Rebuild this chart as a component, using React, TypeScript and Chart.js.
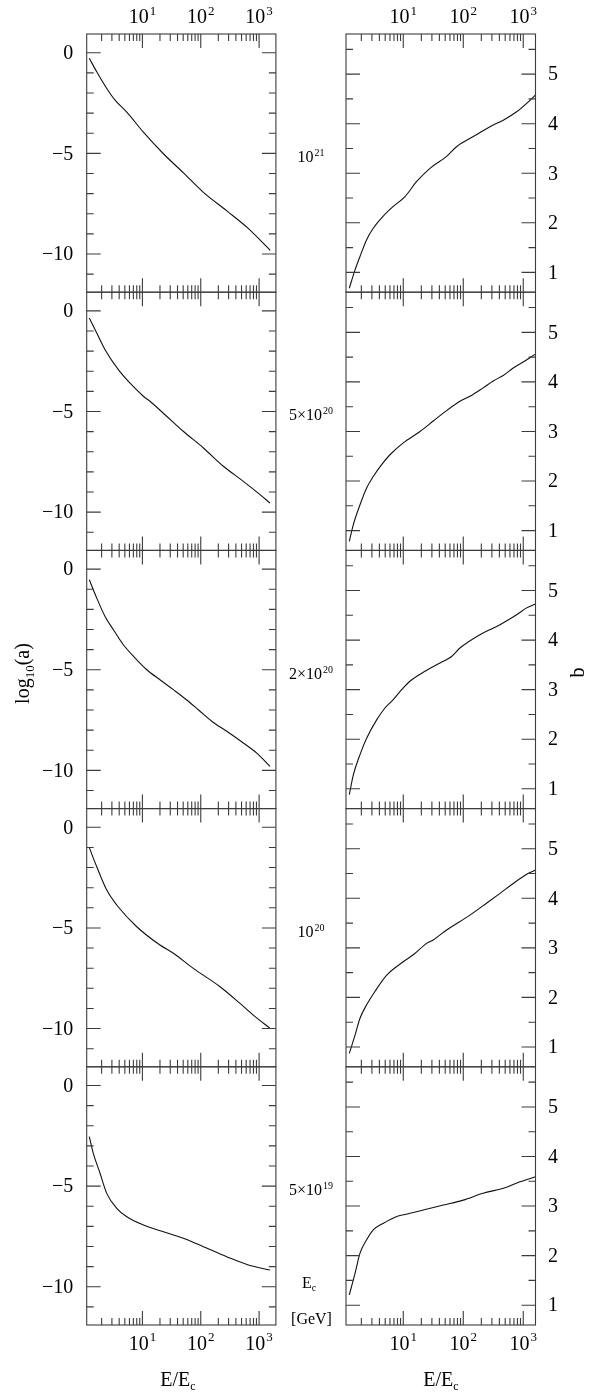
import React, { useEffect, useRef } from "react";
import { Chart, registerables } from "chart.js";

Chart.register(...registerables);

// ---------------- data ----------------
// left column: log10(a) versus E/Ec, one pair of arrays per panel (top to bottom)
const aEnergy1 = [1.23, 1.65, 2.45, 3.4, 5.4, 10.4, 22.9, 50.5, 111, 280, 657, 1550];
const aLog1 = [-0.28, -0.95, -1.78, -2.36, -2.95, -3.95, -5.02, -5.97, -6.94, -7.86, -8.74, -9.82];

const aEnergy2 = [1.23, 1.65, 2.29, 3.87, 6.1, 10.4, 13.5, 24.4, 50, 111, 244, 537, 1037, 1540];
const aLog2 = [-0.35, -1.1, -1.93, -2.92, -3.58, -4.24, -4.49, -5.16, -5.98, -6.81, -7.72, -8.47, -9.13, -9.55];

const aEnergy3 = [1.23, 1.65, 2.29, 3.18, 4.71, 7.5, 11.9, 20, 33.9, 57, 91, 154, 279, 537, 912, 1540];
const aLog3 = [-0.53, -1.44, -2.35, -3.01, -3.76, -4.42, -5.0, -5.5, -5.99, -6.49, -6.99, -7.56, -8.06, -8.64, -9.14, -9.8];

const aEnergy4 = [1.23, 1.65, 2.45, 3.63, 8.0, 20, 33.9, 74.6, 214, 471, 795, 1540];
const aLog4 = [-1.01, -1.96, -3.12, -3.86, -4.94, -5.85, -6.26, -7.01, -7.92, -8.75, -9.33, -9.99];

const aEnergy5 = [1.23, 1.44, 1.88, 2.45, 3.63, 5.4, 10.4, 22.9, 50.4, 111, 279, 653, 1540];
const aLog5 = [-2.54, -3.37, -4.36, -5.36, -6.1, -6.52, -6.93, -7.27, -7.59, -8.01, -8.51, -8.92, -9.17];

// right column: b versus E/Ec
const bEnergy1 = [1.26, 1.57, 1.9, 2.45, 3.16, 4.6, 6.8, 10.7, 16.6, 27.9, 52.8, 78, 147, 279, 464, 776, 1140, 1600];
const bValue1 = [0.68, 1.05, 1.32, 1.66, 1.89, 2.13, 2.33, 2.53, 2.83, 3.1, 3.34, 3.54, 3.74, 3.94, 4.07, 4.24, 4.41, 4.58];

const bEnergy2 = [1.26, 1.47, 1.9, 2.45, 3.16, 4.36, 6.0, 10, 19, 31.6, 46.4, 88, 129, 214, 316, 464, 680, 1000, 1600];
const bValue2 = [0.78, 1.12, 1.52, 1.86, 2.09, 2.33, 2.53, 2.77, 3.0, 3.21, 3.37, 3.61, 3.71, 3.88, 4.02, 4.13, 4.28, 4.4, 4.56];

const bEnergy3 = [1.26, 1.47, 1.9, 2.45, 3.6, 4.95, 6.8, 9.4, 12.9, 23, 41, 64, 88, 190, 410, 776, 1140, 1600];
const bValue3 = [0.88, 1.28, 1.69, 2.02, 2.39, 2.63, 2.8, 3.0, 3.17, 3.37, 3.54, 3.67, 3.84, 4.11, 4.31, 4.51, 4.65, 4.73];

const bEnergy4 = [1.26, 1.57, 1.9, 2.45, 3.37, 5.3, 10, 14.7, 24.5, 31.6, 52.8, 129, 244, 410, 680, 1200, 1600];
const bValue4 = [0.87, 1.24, 1.58, 1.85, 2.12, 2.45, 2.72, 2.86, 3.09, 3.16, 3.36, 3.66, 3.9, 4.1, 4.3, 4.5, 4.57];

const bEnergy5 = [1.26, 1.57, 1.9, 2.45, 3.16, 4.6, 7.8, 10.7, 21.5, 46.4, 100, 214, 464, 881, 1600];
const bValue5 = [1.21, 1.64, 2.05, 2.32, 2.52, 2.65, 2.79, 2.83, 2.92, 3.02, 3.12, 3.26, 3.36, 3.49, 3.59];

// tick labels
const xTickExponents = [1, 2, 3];
const aTickLabels = [0, -5, -10];
const bTickLabels = [1, 2, 3, 4, 5];

// primary energy E_c labels (mantissa and exponent), top to bottom
const ecMantissa = ["", "5\u00d7", "2\u00d7", "", "5\u00d7"];
const ecExponent = ["21", "20", "20", "20", "19"];

const leftSeries = [
  [aEnergy1, aLog1],
  [aEnergy2, aLog2],
  [aEnergy3, aLog3],
  [aEnergy4, aLog4],
  [aEnergy5, aLog5],
];
const rightSeries = [
  [bEnergy1, bValue1],
  [bEnergy2, bValue2],
  [bEnergy3, bValue3],
  [bEnergy4, bValue4],
  [bEnergy5, bValue5],
];

// ---------------- layout ----------------
const W = 592;
const H = 1395;
const SERIF = '"Liberation Serif", "Times New Roman", serif';
const PANEL_TOP = 34;
const PANEL_H = 258.2;
const COLS = [
  { left: 86.7, right: 275.9, xMin: 1.11, xMax: 1940, yMin: -11.9, yMax: 0.93, minor: 1, major: 5, titleX: 178 },
  { left: 346, right: 535.5, xMin: 1.11, xMax: 1600, yMin: 0.6, yMax: 5.81, minor: 0.5, major: 1, titleX: 441 },
];

function drawPow(ctx: CanvasRenderingContext2D, base: string, exp: string, cx: number, baseline: number, size: number, expSize: number, rise: number) {
  ctx.font = `${size}px ${SERIF}`;
  const wb = ctx.measureText(base).width;
  ctx.font = `${expSize}px ${SERIF}`;
  const we = ctx.measureText(exp).width;
  const x0 = cx - (wb + we + 1) / 2;
  ctx.textAlign = "left";
  ctx.textBaseline = "alphabetic";
  ctx.font = `${size}px ${SERIF}`;
  ctx.fillText(base, x0, baseline);
  ctx.font = `${expSize}px ${SERIF}`;
  ctx.fillText(exp, x0 + wb + 1, baseline - rise);
}

function drawSub(ctx: CanvasRenderingContext2D, parts: [string, number, number][], cx: number, baseline: number) {
  // parts: [text, fontSize, drop]
  let total = 0;
  const widths: number[] = [];
  for (const [t, s] of parts) {
    ctx.font = `${s}px ${SERIF}`;
    const w = ctx.measureText(t).width;
    widths.push(w);
    total += w;
  }
  let x = cx - total / 2;
  ctx.textAlign = "left";
  ctx.textBaseline = "alphabetic";
  parts.forEach(([t, s, d], i) => {
    ctx.font = `${s}px ${SERIF}`;
    ctx.fillText(t, x, baseline + d);
    x += widths[i];
  });
}

function makePlugin(col: number, row: number) {
  const c = COLS[col];
  return {
    id: `panel_${col}_${row}`,
    afterDatasetsDraw(chart: any) {
      const ctx: CanvasRenderingContext2D = chart.ctx;
      const { left, right, top, bottom } = chart.chartArea;
      const xs = chart.scales.x;
      const ys = chart.scales.y;
      ctx.save();
      ctx.strokeStyle = "#3c3c3c";
      ctx.lineWidth = 1.1;
      ctx.strokeRect(left, top, right - left, bottom - top);
      ctx.beginPath();
      for (let d = 0; d < 4; d++) {
        for (let m = 1; m < 10; m++) {
          const v = m * Math.pow(10, d);
          if (v <= xs.min || v >= xs.max) continue;
          const px = xs.getPixelForValue(v);
          const len = m === 1 ? 14 : 7;
          ctx.moveTo(px, top);
          ctx.lineTo(px, top + len);
          ctx.moveTo(px, bottom);
          ctx.lineTo(px, bottom - len);
        }
      }
      const n0 = Math.ceil(ys.min / c.minor - 1e-6);
      const n1 = Math.floor(ys.max / c.minor + 1e-6);
      for (let k = n0; k <= n1; k++) {
        const v = k * c.minor;
        const py = ys.getPixelForValue(v);
        const q = v / c.major;
        const len = Math.abs(q - Math.round(q)) < 1e-6 ? 14 : 7;
        ctx.moveTo(left, py);
        ctx.lineTo(left + len, py);
        ctx.moveTo(right, py);
        ctx.lineTo(right - len, py);
      }
      ctx.stroke();

      ctx.fillStyle = "#000";
      ctx.font = `20px ${SERIF}`;
      ctx.textBaseline = "middle";
      if (col === 0) {
        ctx.textAlign = "right";
        for (const v of aTickLabels) {
          const py = ys.getPixelForValue(v);
          const t = v < 0 ? "\u2212" + Math.abs(v) : String(v);
          ctx.fillText(t, left - 13.5, py + 1);
        }
      } else {
        ctx.textAlign = "left";
        for (const v of bTickLabels) {
          const py = ys.getPixelForValue(v);
          ctx.fillText(String(v), right + 12.5, py + 1);
        }
        // E_c label in the gap between the columns
        const cy = (top + bottom) / 2;
        drawPow(ctx, ecMantissa[row] + "10", ecExponent[row], 311, cy - 1, 16, 10, 6);
      }

      if (row === 0) {
        for (const e of xTickExponents) {
          drawPow(ctx, "10", String(e), xs.getPixelForValue(Math.pow(10, e)), top - 10.7, 20, 13, 8.5);
        }
      }
      if (row === 4) {
        for (const e of xTickExponents) {
          drawPow(ctx, "10", String(e), xs.getPixelForValue(Math.pow(10, e)), bottom + 25, 20, 13, 9.5);
        }
        drawSub(ctx, [["E/E", 20, 0], ["c", 12, 4]], c.titleX, bottom + 61);
        if (col === 1) {
          drawSub(ctx, [["E", 16, 0], ["c", 10, 3]], 309, 1288);
          ctx.font = `16px ${SERIF}`;
          ctx.textAlign = "center";
          ctx.textBaseline = "middle";
          ctx.fillText("[GeV]", 311.5, 1320);
        }
      }
      if (row === 2) {
        ctx.save();
        if (col === 0) {
          ctx.translate(29, 673.5);
          ctx.rotate(-Math.PI / 2);
          drawSub(ctx, [["log", 20, 0], ["10", 13, 5], ["(a)", 20, 0]], 0, 0);
        } else {
          ctx.translate(584, 672.5);
          ctx.rotate(-Math.PI / 2);
          drawSub(ctx, [["b", 20, 0]], 0, 0);
        }
        ctx.restore();
      }
      ctx.restore();
    },
  };
}

export default function App() {
  const refs = useRef<(HTMLCanvasElement | null)[]>([]);

  useEffect(() => {
    const charts: Chart[] = [];
    for (let col = 0; col < 2; col++) {
      const c = COLS[col];
      const series = col === 0 ? leftSeries : rightSeries;
      for (let row = 0; row < 5; row++) {
        const canvas = refs.current[col * 5 + row];
        if (!canvas) continue;
        const [xs, ys] = series[row];
        const top = PANEL_TOP + row * PANEL_H;
        const bottom = top + PANEL_H;
        const chart = new Chart(canvas, {
          type: "line",
          data: {
            datasets: [
              {
                data: xs.map((x, i) => ({ x, y: ys[i] })),
                borderColor: "#111",
                borderWidth: 1.1,
                pointRadius: 0,
                fill: false,
                cubicInterpolationMode: "monotone",
              },
            ],
          },
          options: {
            responsive: false,
            animation: false,
            events: [],
            layout: {
              padding: { left: c.left, right: W - c.right, top, bottom: H - bottom },
            },
            scales: {
              x: { type: "logarithmic", min: c.xMin, max: c.xMax, display: false },
              y: { type: "linear", min: c.yMin, max: c.yMax, display: false },
            },
            plugins: {
              legend: { display: false },
              tooltip: { enabled: false },
            },
          },
          plugins: [makePlugin(col, row)],
        } as any);
        charts.push(chart);
      }
    }
    return () => charts.forEach((ch) => ch.destroy());
  }, []);

  return (
    <div style={{ position: "absolute", left: 0, top: 0, width: W, height: H, background: "#fff" }}>
      {Array.from({ length: 10 }).map((_, i) => (
        <canvas
          key={i}
          ref={(el) => {
            refs.current[i] = el;
          }}
          width={W}
          height={H}
          style={{ position: "absolute", left: 0, top: 0, width: W, height: H }}
        />
      ))}
    </div>
  );
}
